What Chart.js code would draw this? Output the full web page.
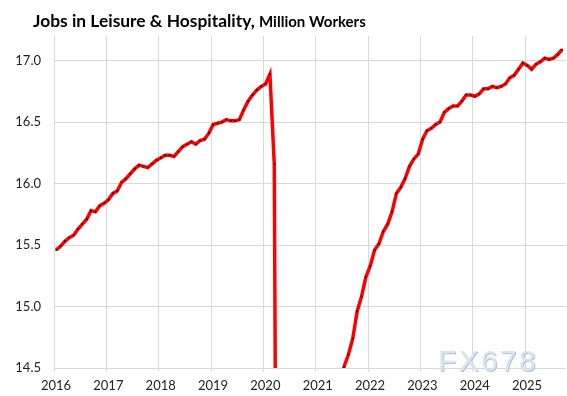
<!DOCTYPE html>
<html>
<head>
<meta charset="utf-8">
<script src="https://cdn.jsdelivr.net/npm/chart.js@4.4.1/dist/chart.umd.min.js"></script>
<style>
  html, body { margin: 0; padding: 0; background: #fff; }
  #wrap { width: 567px; height: 396px; position: relative; }
</style>
</head>
<body>
<div id="wrap"><canvas id="chart"></canvas></div>
<script>
// Leisure & hospitality employment, million workers, monthly (SA)
const START_YEAR = 2016;
const jobs2016 = [15.46, 15.49, 15.53, 15.56, 15.58, 15.63, 15.67, 15.71, 15.78, 15.77, 15.82, 15.84];
const jobs2017 = [15.87, 15.92, 15.94, 16.01, 16.04, 16.08, 16.12, 16.15, 16.14, 16.13, 16.16, 16.19];
const jobs2018 = [16.21, 16.23, 16.23, 16.22, 16.26, 16.30, 16.32, 16.34, 16.32, 16.35, 16.36, 16.41];
const jobs2019 = [16.48, 16.49, 16.50, 16.52, 16.51, 16.51, 16.52, 16.60, 16.67, 16.72, 16.76, 16.79];
const jobs2020 = [16.81, 16.89, 16.16, 8.72, 10.15, 11.88, 12.53, 12.82, 13.12, 13.37, 13.35, 12.94];
const jobs2021 = [13.02, 13.39, 13.70, 13.97, 14.18, 14.36, 14.51, 14.61, 14.74, 14.96, 15.08, 15.24];
const jobs2022 = [15.33, 15.46, 15.51, 15.61, 15.67, 15.77, 15.92, 15.97, 16.04, 16.14, 16.20, 16.24];
const jobs2023 = [16.36, 16.43, 16.45, 16.48, 16.50, 16.58, 16.61, 16.63, 16.63, 16.67, 16.72, 16.72];
const jobs2024 = [16.71, 16.73, 16.77, 16.77, 16.79, 16.78, 16.79, 16.81, 16.86, 16.88, 16.93, 16.98];
const jobs2025 = [16.96, 16.93, 16.97, 16.99, 17.02, 17.01, 17.02, 17.05, 17.09];

const yearTicks = [2016, 2017, 2018, 2019, 2020, 2021, 2022, 2023, 2024, 2025];
const valueTicks = [14.5, 15.0, 15.5, 16.0, 16.5, 17.0];

const TITLE_MAIN = 'Jobs in Leisure & Hospitality,';
const TITLE_SUB = 'Million Workers';
const WATERMARK = 'FX678';

const FONT = 'Lato, "Noto Sans", sans-serif';

const allJobs = [].concat(jobs2016, jobs2017, jobs2018, jobs2019, jobs2020,
                          jobs2021, jobs2022, jobs2023, jobs2024, jobs2025);

// each month sits in the middle of its month on a date axis
const points = allJobs.map((v, i) => ({ x: START_YEAR + (i + 0.5) / 12, y: v }));

// title with two font sizes + watermark
const decorations = {
    id: 'decorations',
    beforeDraw(chart) {
        const ctx = chart.ctx;
        ctx.save();
        ctx.fillStyle = '#000';
        ctx.textBaseline = 'alphabetic';
        ctx.font = 'bold 17.4px ' + FONT;
        ctx.fillText(TITLE_MAIN, 33, 27);
        const w = ctx.measureText(TITLE_MAIN + ' ').width;
        ctx.font = 'bold 15px ' + FONT;
        ctx.fillText(TITLE_SUB, 33 + w, 27);
        ctx.restore();
    },
    afterDraw(chart) {
        const ctx = chart.ctx;
        ctx.save();
        ctx.font = '30px "Liberation Sans", Arial, sans-serif';
        ctx.textBaseline = 'alphabetic';
        let x = 438;
        for (const ch of WATERMARK) {
            ctx.fillStyle = '#b4c2d2';
            ctx.fillText(ch, x + 1, 372);
            ctx.fillStyle = '#d6e4f3';
            ctx.fillText(ch, x, 371);
            x += ctx.measureText(ch).width + 2.3;
        }
        ctx.restore();
    }
};

new Chart(document.getElementById('chart'), {
    type: 'line',
    data: {
        datasets: [{
            data: points,
            borderColor: '#ff0000',
            borderWidth: 3.5,
            tension: 0,
            pointRadius: 1.1,
            pointStyle: 'rect',
            pointBackgroundColor: '#000',
            pointBorderWidth: 0,
            pointHoverRadius: 0,
        }],
    },
    options: {
        responsive: true,
        maintainAspectRatio: false,
        animation: false,
        layout: { padding: { top: 36, right: 0, left: 0, bottom: 0 } },
        plugins: {
            legend: { display: false },
            tooltip: { enabled: false },
        },
        scales: {
            x: {
                type: 'linear',
                min: 2016,
                max: 2025.78,
                afterBuildTicks: axis => { axis.ticks = yearTicks.map(v => ({ value: v })); },
                afterFit: axis => { axis.height = 28; },
                grid: { color: '#d9d9d9', lineWidth: 1, tickLength: 4 },
                border: { color: '#d9d9d9' },
                ticks: {
                    color: '#222',
                    font: { family: FONT, size: 13 },
                    padding: 6,
                    maxRotation: 0,
                    autoSkip: false,
                    labelOffset: 2,
                    callback: v => String(v),
                },
            },
            y: {
                min: 14.5,
                max: 17.2,
                afterBuildTicks: axis => { axis.ticks = valueTicks.map(v => ({ value: v })); },
                afterFit: axis => { axis.width = 54; },
                grid: { color: '#d9d9d9', lineWidth: 1, drawTicks: false },
                border: { color: '#d9d9d9' },
                ticks: {
                    color: '#222',
                    font: { family: FONT, size: 13 },
                    padding: 13,
                    callback: v => v.toFixed(1),
                },
            },
        },
    },
    plugins: [decorations],
});
</script>
</body>
</html>
